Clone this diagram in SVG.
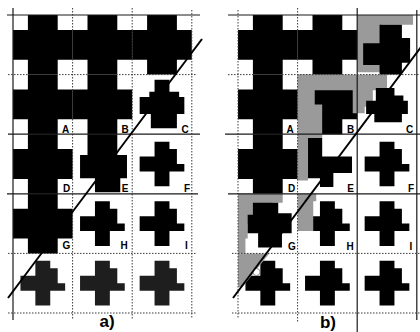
<svg xmlns="http://www.w3.org/2000/svg" width="420" height="332" viewBox="0 0 420 332">
<style>
.blk{fill:#000}
.dk{fill:#1e1e1e}
.gry{fill:#9a9a9a}
.gs{stroke:#1a1a1a;stroke-width:1.2;fill:none}
.gd{stroke:#3a3a3a;stroke-width:1;stroke-dasharray:1.5 1.5;fill:none}
.diag{stroke:#000;stroke-width:2;fill:none}
.lbl{font-family:"Liberation Sans",Arial,sans-serif;font-weight:bold;font-size:10px;fill:#000;text-anchor:middle}
.cap{font-family:"Liberation Sans",Arial,sans-serif;font-weight:bold;font-size:17px;fill:#000;text-anchor:middle}
</style>
<defs>
<path id="F" d="M2,0H6V2H8V6H6V8H2V6H0V2H2Z"/>
<path id="P" d="M3,1H5V2H6V4H7V5H5V7H3V5H1V3H3Z"/>
</defs>
<rect width="420" height="332" fill="#fff"/>

<g id="panel-a" transform="translate(13,15) scale(7.45)">
<g id="a-mass" class="blk">
<use href="#F" x="0" y="0"/><use href="#F" x="8" y="0"/><use href="#F" x="16" y="0"/>
<use href="#F" x="0" y="8"/><use href="#F" x="8" y="8"/>
<use href="#F" x="0" y="16"/><use href="#F" x="0" y="24"/>
<path d="M10,16H14V18.8H15.3V21.9H14.4V23.8H11V21.9H9V18.8H10Z"/>
</g>
<g id="a-crosses" class="blk">
<path d="M19,8.7H21V10.3H22.3V11H23V13.3H22V15.2H18.5V13.3H17V11H18.3V10.3H19Z"/>
<use href="#P" x="16" y="16"/>
<use href="#P" x="8" y="24"/><use href="#P" x="16" y="24"/>
</g>
<g id="a-row5" class="dk">
<use href="#P" x="0" y="32"/><use href="#P" x="8" y="32"/><use href="#P" x="16" y="32"/>
</g>
</g>

<g id="panel-b" transform="translate(238,15) scale(7.45)">
<g id="b-mass" class="blk">
<use href="#F" x="0" y="0"/><use href="#F" x="8" y="0"/>
<use href="#F" x="0" y="8"/><use href="#F" x="8" y="8"/>
<use href="#F" x="0" y="16"/>
</g>
<g id="b-gray" class="gry">
<path d="M16,0H23.5V1.3H19.3V7.7H16Z"/>
<rect x="8" y="8" width="12" height="2.1"/>
<path d="M8,8H10.3V12H11.3V16.5H9.4V22.2H8Z"/>
<path d="M15.4,10H18.1V12.3H17V13.2H15.4Z"/>
<path d="M0,24H6V25.2H4.6V26.8H2V28H1.3V30H1V32H0Z"/>
</g>
<g id="b-crosses" class="blk">
<path d="M19,1.3H22V3.1H23.1V6.4H22V8H19V6.7H16.8V3.8H19Z"/>
<path d="M9.4,16.5H11.3V19H15.3V21.2H12.8V23.1H11V21.9H9.4Z"/>
<path d="M2,25.2H5.4V26.6H7.2V29.3H5.9V31.2H2.7V29.3H1.3V26.8H2Z"/>
<path d="M18.5,9.8H21V10.8H22.2V11.5H22.8V13.3H22V14.4H18.3V13.3H17.2V11.5H18.5Z"/>
<use href="#P" x="16" y="16"/>
<use href="#P" x="16" y="24"/><use href="#P" x="8" y="24"/>
<use href="#P" x="0" y="32"/><use href="#P" x="8" y="32"/><use href="#P" x="16" y="32"/>
</g>
<g id="b-gray-top" class="gry">
<path d="M8,24H10.5V25H10.1V29H8Z"/>
<path d="M0,32H4.2L0.6,36.5H0Z"/>
</g>
</g>

<g id="connectors">
<g id="grid-a">
<line class="gs" x1="7" y1="15" x2="200" y2="15"/>
<line class="gs" x1="13" y1="8" x2="13" y2="320"/>
<line class="gd" x1="72.6" y1="8" x2="72.6" y2="320"/>
<line class="gd" x1="132.2" y1="8" x2="132.2" y2="320"/>
<line class="gd" x1="191.8" y1="10" x2="191.8" y2="318"/>
<line class="gd" x1="8" y1="74.6" x2="197" y2="74.6"/>
<line class="gs" x1="8" y1="134.2" x2="200" y2="134.2"/>
<line class="gs" x1="7" y1="193.8" x2="198" y2="193.8"/>
<line class="gd" x1="8" y1="253.4" x2="197" y2="253.4"/>
<line class="gd" x1="8" y1="313" x2="197" y2="313"/>
</g>
<g id="grid-b">
<line class="gs" x1="228" y1="15" x2="420" y2="15"/>
<line class="gd" x1="238" y1="10" x2="238" y2="318"/>
<line class="gd" x1="297.6" y1="8" x2="297.6" y2="322"/>
<line class="gs" x1="357.2" y1="8" x2="357.2" y2="332"/>
<line class="gs" x1="416.8" y1="10" x2="416.8" y2="320"/>
<line class="gd" x1="228" y1="74.6" x2="420" y2="74.6"/>
<line class="gs" x1="225" y1="134.2" x2="420" y2="134.2"/>
<line class="gs" x1="228" y1="193.8" x2="420" y2="193.8"/>
<line class="gd" x1="232" y1="253.4" x2="420" y2="253.4"/>
<line class="gd" x1="232" y1="313" x2="420" y2="313"/>
</g>
<circle cx="256.5" cy="272" r="3.5" fill="#fff" stroke="#555" stroke-width="0.6"/>
<line class="diag" x1="8" y1="298" x2="202" y2="39"/>
<line class="diag" x1="233" y1="298" x2="427" y2="39"/>
</g>

<g id="labels-a">
<text class="lbl" x="65.5" y="133">A</text>
<text class="lbl" x="125" y="133">B</text>
<text class="lbl" x="185" y="133">C</text>
<text class="lbl" x="66.5" y="192">D</text>
<text class="lbl" x="125" y="192">E</text>
<text class="lbl" x="187" y="192">F</text>
<text class="lbl" x="66.5" y="249">G</text>
<text class="lbl" x="124" y="249">H</text>
<text class="lbl" x="186.5" y="249">I</text>
<text class="cap" x="107" y="327">a)</text>
</g>
<g id="labels-b">
<text class="lbl" x="290" y="133">A</text>
<text class="lbl" x="350.5" y="133">B</text>
<text class="lbl" x="409.5" y="133">C</text>
<text class="lbl" x="291.5" y="192">D</text>
<text class="lbl" x="350.5" y="192">E</text>
<text class="lbl" x="411" y="192">F</text>
<text class="lbl" x="292" y="250">G</text>
<text class="lbl" x="350" y="250">H</text>
<text class="lbl" x="411" y="250">I</text>
<text class="cap" x="328" y="328">b)</text>
</g>
</svg>
